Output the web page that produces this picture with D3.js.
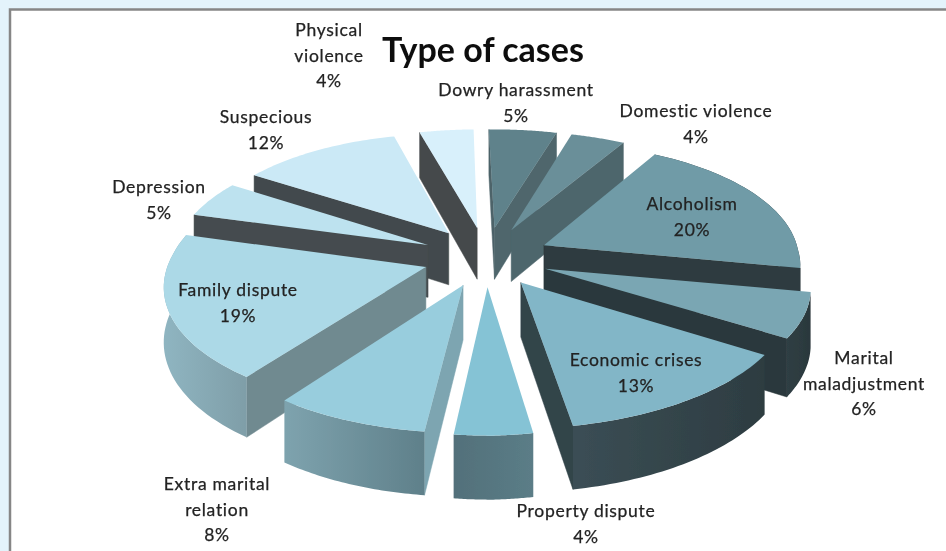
<!DOCTYPE html>
<html>
<head>
<meta charset="utf-8">
<script src="https://d3js.org/d3.v7.min.js"></script>
<style>
  html, body { margin: 0; padding: 0; background: #e3f3fb; }
  svg { display: block; }
  text { font-family: Lato, "Open Sans", sans-serif; fill: #222; }
</style>
</head>
<body>
<div id="chart"></div>
<script>
const categories = ["Dowry harassment", "Domestic violence", "Alcoholism", "Marital maladjustment",
    "Economic crises", "Property dispute", "Extra marital relation", "Family dispute",
    "Depression", "Suspecious", "Physical violence"]
const values = [5, 4, 20, 6, 13, 4, 8, 19, 5, 12, 4]

// colours per slice: top face, start wall, end wall, outer wall (left, right)
const topColors = ["#5f828b", "#6a8f99", "#6f9ba7", "#7aa6b3", "#82b6c7", "#85c3d5",
    "#98cddd", "#acd9e7", "#bde2ef", "#cbe9f6", "#d8f0fb"]
const startWall = ["#4d6369", "#4d6369", "#2e3b3f", "#2b383c", "#33444a", "#55737c",
    "#7da5b1", "#708a90", "#454c4f", "#434a4d", "#45494b"]
const endWall = ["#4f666c", "#4e666c", "#2e3b3f", "#2b383c", "#33444a", "#55737c",
    "#7da5b1", "#708a90", "#454c4f", "#434a4d", "#45494b"]
const outerLeft = ["#4d6369", "#4d6369", "#2e3b3f", "#2f3f44", "#3b4e55", "#52707a",
    "#7ea3ae", "#8fb5c1", "#454c4f", "#434a4d", "#45494b"]
const outerRight = ["#4d6369", "#4d6369", "#2e3b3f", "#2b383c", "#2d3c41", "#5b7d87",
    "#5f808a", "#7f9ea8", "#454c4f", "#434a4d", "#45494b"]

// label text lines and anchor (centre x, first line y)
const labelLines = [["Dowry harassment", "5%"], ["Domestic violence", "4%"], ["Alcoholism", "20%"],
    ["Marital", "maladjustment", "6%"], ["Economic crises", "13%"], ["Property dispute", "4%"],
    ["Extra marital", "relation", "8%"], ["Family dispute", "19%"], ["Depression", "5%"],
    ["Suspecious", "12%"], ["Physical", "violence", "4%"]]
const labelAnchors = [[516, 90], [696, 111], [692, 204], [864, 358], [636, 360], [586, 511],
    [217, 484], [238, 290], [159, 187], [266, 117], [329, 30]]

const width = 946, height = 551

// pie geometry: camera looking down on the disc, front gets bigger
const cx = 486, cy = 256.5, rx = 254, ry = 117,
    explode = 0.25, persp = 0.1376, thickness = 53

// disc coords (radius 1, Y to the back) -> screen
// the shear and roll terms are there because the original camera is not quite square on
function project(X, Y, drop = 0) {
    const s = 1 / (1 + persp * Y)
    const front = Math.min(Y, 0)
    const shear = Y < 0 ? 6 : 4.5
    const sx = cx + X * rx * s * (1 - 0.03 * front) - shear * Y
    const sy = cy - Y * ry * s - 1.7 * X - 3 * X * X - 2 * Y + 6 * Math.max(X, 0) * front
    return [sx, sy + drop * s]
}

const pie = d3.pie().sort(null).value(d => d)
const slices = pie(values).map((d, i) => {
    const mid = (d.startAngle + d.endAngle) / 2
    return {
        i,
        startAngle: d.startAngle,
        endAngle: d.endAngle,
        ox: explode * Math.sin(mid),
        oy: explode * Math.cos(mid)
    }
})

const svg = d3.select("#chart").append("svg")
    .attr("width", width)
    .attr("height", height)

// soften everything a little, the source is a scaled screenshot
const defs = svg.append("defs")
defs.append("filter").attr("id", "soft")
    .append("feGaussianBlur").attr("stdDeviation", 0.55)

svg.append("rect")
    .attr("x", 10).attr("y", 9.5)
    .attr("width", width).attr("height", height)
    .attr("fill", "#fff")
    .attr("stroke", "#868686")
    .attr("stroke-width", 2.5)

const line = d3.line()

const g = svg.append("g").attr("filter", "url(#soft)")

// back slices first
const order = slices.slice().sort((a, b) => b.oy - a.oy)

order.forEach(s => {
    const steps = d3.range(0, 41).map(k => s.startAngle + (s.endAngle - s.startAngle) * k / 40)
    const rim = steps.map(a => [s.ox + Math.sin(a), s.oy + Math.cos(a)])
    const apex = [s.ox, s.oy]

    const topPts = [apex, ...rim].map(p => project(p[0], p[1]))
    const first = rim[0], last = rim[rim.length - 1]

    // radial walls, only when they face the camera
    const wall = (a, b, color) => {
        const pts = [project(a[0], a[1]), project(b[0], b[1]),
            project(b[0], b[1], thickness), project(a[0], a[1], thickness)]
        if (d3.polygonArea(pts) < 0) return
        g.append("path").attr("d", line(pts) + "Z")
            .attr("fill", color).attr("stroke", color).attr("stroke-width", 0.5)
    }
    wall(apex, first, startWall[s.i])
    wall(last, apex, endWall[s.i])

    // outer wall, back slices have it hidden behind their own top face
    const up = rim.map(p => project(p[0], p[1]))
    const down = rim.map(p => project(p[0], p[1], thickness)).reverse()
    const xs = up.map(p => p[0])
    const gradId = "outer" + s.i
    const grad = defs.append("linearGradient").attr("id", gradId)
        .attr("gradientUnits", "userSpaceOnUse")
        .attr("x1", d3.min(xs)).attr("x2", d3.max(xs)).attr("y1", 0).attr("y2", 0)
    grad.append("stop").attr("offset", 0).attr("stop-color", outerLeft[s.i])
    grad.append("stop").attr("offset", 1).attr("stop-color", outerRight[s.i])
    if (Math.cos(s.startAngle) < 0.2 || Math.cos(s.endAngle) < 0.2) {
        g.append("path").attr("d", line([...up, ...down]) + "Z")
            .attr("fill", `url(#${gradId})`)
    }

    g.append("path").attr("d", line(topPts) + "Z")
        .attr("fill", topColors[s.i])
})

// title
svg.append("text")
    .attr("x", 483).attr("y", 62)
    .attr("text-anchor", "middle")
    .attr("filter", "url(#soft)")
    .style("font-size", "34px").style("font-weight", 700)
    .style("fill", "#111")
    .text("Type of cases")

// labels
labelLines.forEach((lines, i) => {
    const a = labelAnchors[i]
    const t = svg.append("text")
        .attr("text-anchor", "middle")
        .attr("filter", "url(#soft)")
        .style("font-size", "17.5px")
        .style("letter-spacing", "0.7px")
        .style("stroke", "#222")
        .style("stroke-width", 0.25)
    lines.forEach((l, k) => {
        t.append("tspan")
            .attr("x", a[0])
            .attr("y", a[1] + k * 25.5 + 6)
            .text(l)
    })
})
</script>
</body>
</html>
